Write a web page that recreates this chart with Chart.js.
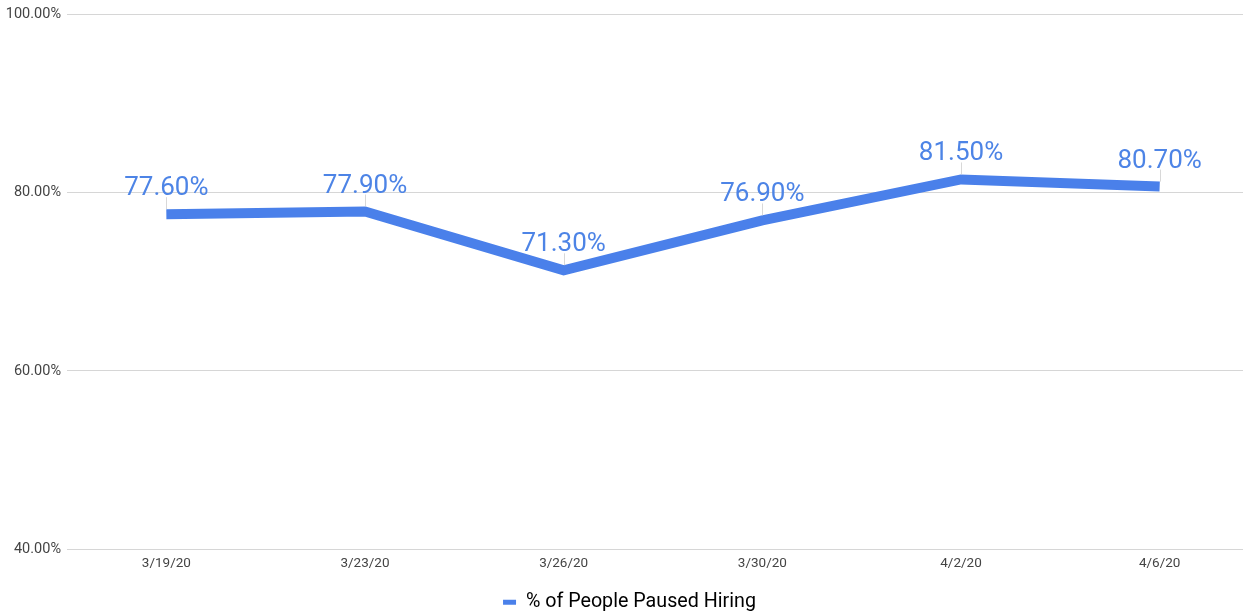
<!DOCTYPE html>
<html>
<head>
<meta charset="utf-8">
<script src="https://cdn.jsdelivr.net/npm/chart.js@4/dist/chart.umd.min.js"></script>
<style>
  html, body { margin: 0; padding: 0; background: #fff; overflow: hidden; }
  #wrap { position: relative; width: 1259px; height: 622px; }
</style>
</head>
<body>
<div id="wrap"><canvas id="chart"></canvas></div>
<script>
const dates = ["3/19/20", "3/23/20", "3/26/20", "3/30/20", "4/2/20", "4/6/20"];
const pausedHiring = [77.6, 77.9, 71.3, 76.9, 81.5, 80.7];
const yTicks = [40, 60, 80, 100];

const seriesColor = "#4a80ea";
const labelColor = "#4d84e6";

// value labels above each point, with a thin leader down to the line
const pointLabels = {
  id: "pointLabels",
  afterDatasetsDraw(chart) {
    const { ctx } = chart;
    const meta = chart.getDatasetMeta(0);
    ctx.save();
    meta.data.forEach((pt, i) => {
      const base = pt.y - 19;
      ctx.strokeStyle = "rgba(200,200,200,0.7)";
      ctx.lineWidth = 1;
      ctx.beginPath();
      ctx.moveTo(Math.round(pt.x) + 0.5, base + 2);
      ctx.lineTo(Math.round(pt.x) + 0.5, pt.y - 5);
      ctx.stroke();
      ctx.fillStyle = labelColor;
      ctx.font = "26px Roboto";
      ctx.textAlign = "center";
      ctx.textBaseline = "alphabetic";
      ctx.fillText(pausedHiring[i].toFixed(2) + "%", pt.x, base);
    });
    ctx.restore();
  }
};

new Chart(document.getElementById("chart"), {
  type: "line",
  data: {
    labels: dates,
    datasets: [{
      label: "% of People Paused Hiring",
      data: pausedHiring,
      borderColor: seriesColor,
      backgroundColor: seriesColor,
      borderWidth: 10,
      pointRadius: 0,
      fill: false,
      tension: 0
    }]
  },
  options: {
    responsive: true,
    maintainAspectRatio: false,
    animation: false,
    layout: { padding: { top: 6, right: 0, bottom: 0, left: 0 } },
    plugins: {
      tooltip: { enabled: false },
      legend: {
        position: "bottom",
        labels: {
          color: "#222",
          font: { family: "Roboto", size: 19.7 },
          boxWidth: 13,
          boxHeight: 5,
          padding: 15,
          generateLabels: (chart) => [{
            text: chart.data.datasets[0].label,
            fillStyle: seriesColor,
            strokeStyle: seriesColor,
            lineWidth: 0,
            datasetIndex: 0
          }]
        }
      }
    },
    scales: {
      x: {
        offset: true,
        grid: { display: false, drawTicks: false },
        border: { display: false },
        ticks: {
          color: "#444",
          font: { family: "Roboto", size: 13.5 },
          padding: 6,
          maxRotation: 0
        }
      },
      y: {
        min: 40,
        max: 100,
        afterBuildTicks: (scale) => { scale.ticks = yTicks.map((v) => ({ value: v })); },
        afterFit: (scale) => { scale.width = 67; },
        grid: { color: "#d6d6d6", drawTicks: false },
        border: { display: false },
        ticks: {
          color: "#444",
          font: { family: "Roboto", size: 14.5 },
          padding: 6,
          callback: (v) => v.toFixed(2) + "%"
        }
      }
    }
  },
  plugins: [pointLabels]
});
</script>
</body>
</html>
